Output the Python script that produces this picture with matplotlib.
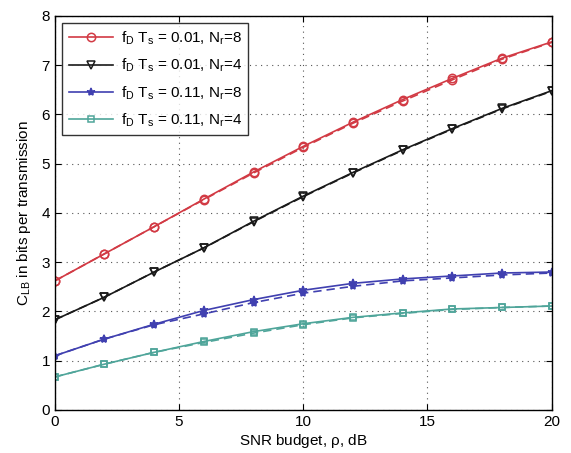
import numpy as np
import matplotlib
matplotlib.use("Agg")
import matplotlib.pyplot as plt

plt.rcParams['font.family'] = ['Liberation Sans', 'DejaVu Sans']
plt.rcParams['mathtext.fontset'] = 'custom'
plt.rcParams['mathtext.rm'] = 'Liberation Sans'
plt.rcParams['mathtext.it'] = 'Liberation Sans:italic'

snr = [0, 2, 4, 6, 8, 10, 12, 14, 16, 18, 20]

# solid curves
red_solid = [2.62, 3.17, 3.72, 4.28, 4.83, 5.35, 5.84, 6.30, 6.73, 7.14, 7.47]
black_solid = [1.83, 2.29, 2.80, 3.29, 3.83, 4.34, 4.82, 5.28, 5.71, 6.12, 6.48]
blue_solid = [1.10, 1.44, 1.74, 2.02, 2.24, 2.43, 2.57, 2.66, 2.72, 2.78, 2.80]
teal_solid = [0.67, 0.93, 1.17, 1.39, 1.59, 1.75, 1.88, 1.97, 2.05, 2.08, 2.11]

# dashed curves
red_dash = [2.62, 3.17, 3.72, 4.27, 4.81, 5.33, 5.82, 6.27, 6.70, 7.12, 7.46]
black_dash = [1.83, 2.29, 2.80, 3.29, 3.82, 4.33, 4.81, 5.27, 5.70, 6.11, 6.47]
blue_dash = [1.10, 1.44, 1.73, 1.95, 2.18, 2.37, 2.51, 2.62, 2.68, 2.74, 2.78]
teal_dash = [0.67, 0.93, 1.17, 1.37, 1.56, 1.73, 1.87, 1.96, 2.04, 2.08, 2.11]

labels = [r'$\mathrm{f_D\ T_s}$ = 0.01, $\mathrm{N_r}$=8',
          r'$\mathrm{f_D\ T_s}$ = 0.01, $\mathrm{N_r}$=4',
          r'$\mathrm{f_D\ T_s}$ = 0.11, $\mathrm{N_r}$=8',
          r'$\mathrm{f_D\ T_s}$ = 0.11, $\mathrm{N_r}$=4']

colors = ['#d23a44', '#1a1a1a', '#4040b0', '#4fa59a']
markers = ['o', 'v', '*', 's']
msizes = [6, 5.5, 6, 4.5]
solids = [red_solid, black_solid, blue_solid, teal_solid]
dashes = [red_dash, black_dash, blue_dash, teal_dash]

fig = plt.figure(figsize=(5.71, 4.53), dpi=100)
ax = fig.add_axes([0.096, 0.095, 0.870, 0.870])

for ys, c, m, ms, lab in zip(solids, colors, markers, msizes, labels):
    face = c if m == '*' else 'none'
    ax.plot(snr, ys, color=c, lw=1.2, marker=m, ms=ms, mfc=face, mec=c,
            mew=1.1, label=lab)
for ys, c, m, ms in zip(dashes, colors, markers, msizes):
    face = c if m == '*' else 'none'
    ax.plot(snr, ys, color=c, lw=1.2, ls=(0, (5, 3)), marker=m, ms=ms,
            mfc=face, mec=c, mew=1.1)

ax.set_xlim(0, 20)
ax.set_ylim(0, 8)
ax.set_xticks([0, 5, 10, 15, 20])
ax.set_yticks(range(0, 9))
ax.grid(True, ls=(0, (1, 4)), color='#555555', lw=0.8)
ax.tick_params(direction='in', top=True, right=True, labelsize=11, length=4)
for s in ax.spines.values():
    s.set_linewidth(1.0)

ax.set_xlabel(r'SNR budget, $\mathrm{\rho}$, dB', fontsize=11, labelpad=2)
ax.set_ylabel(r'$\mathrm{C_{LB}}$ in bits per transmission', fontsize=11, labelpad=6)

leg = ax.legend(loc='upper left', fontsize=11, frameon=True, fancybox=False,
                edgecolor='black', borderaxespad=0.5, handlelength=2.9,
                handletextpad=0.5, labelspacing=0.65, borderpad=0.4)
leg.get_frame().set_linewidth(1.0)

fig.savefig('out.png', dpi=100)
